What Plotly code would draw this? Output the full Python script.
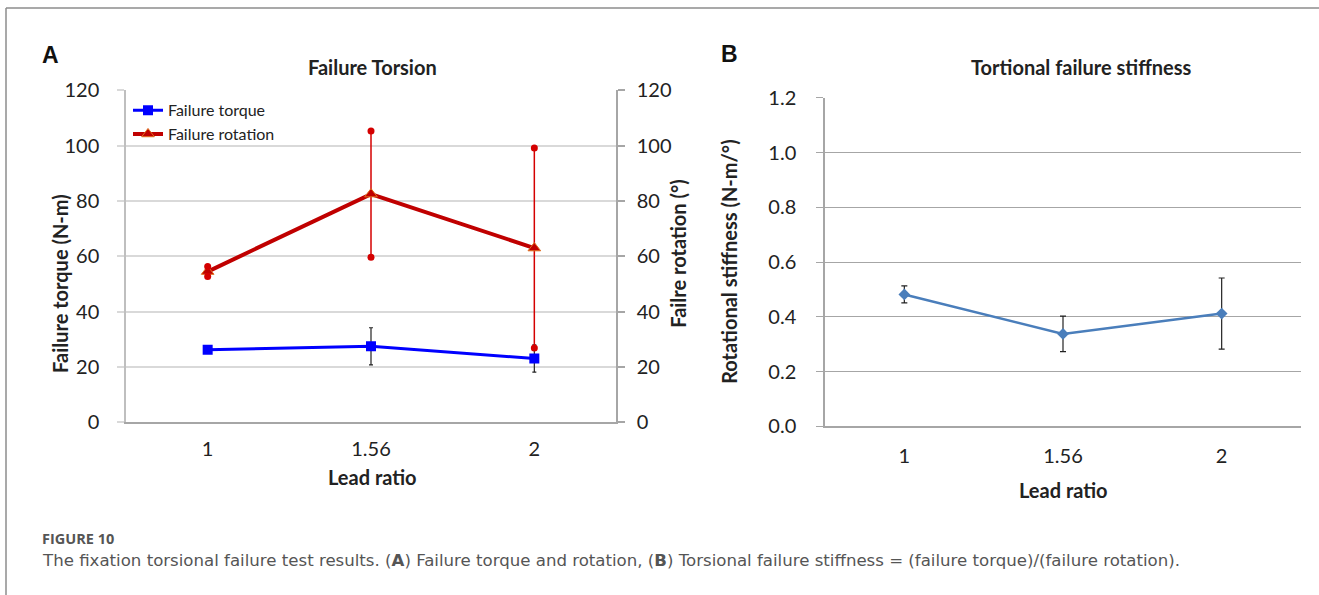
import plotly.graph_objects as go

# ---------------- data ----------------
lead_ratio = ["1", "1.56", "2"]
torque = [26.3, 27.5, 23.1]
torque_err = [1.3, 6.7, 4.9]
rotation = [54.5, 82.5, 63.0]
rotation_err = [1.8, 22.8, 36.1]
stiffness = [0.482, 0.338, 0.412]
stiffness_err = [0.031, 0.065, 0.13]
ticks_a = [0, 20, 40, 60, 80, 100, 120]
ticks_b = [0.0, 0.2, 0.4, 0.6, 0.8, 1.0, 1.2]
tick_labels_b = ["0.0", "0.2", "0.4", "0.6", "0.8", "1.0", "1.2"]

FONT = "Lato, 'Open Sans', sans-serif"
W, H = 1319, 621
OFF, SY = 13, 0.958   # page-to-picture vertical mapping observed for this viewer

def px(x):
    return x / W

def py(y):
    return 1 - ((y - OFF) / SY) / H

fig = go.Figure()

# Panel A: torque (left axis)
fig.add_trace(go.Scatter(
    x=lead_ratio, y=torque, name="Failure torque", mode="lines+markers",
    line=dict(color="#0000ff", width=3),
    marker=dict(symbol="square", size=10, color="#0000ff"),
    error_y=dict(type="data", array=torque_err, color="#222222", thickness=1.2, width=2),
    xaxis="x", yaxis="y",
))
# Panel A: rotation (right axis)
fig.add_trace(go.Scatter(
    x=lead_ratio, y=rotation, name="Failure rotation", mode="lines+markers",
    line=dict(color="#c00000", width=4),
    marker=dict(symbol="triangle-up", size=11, color="#c00000",
                line=dict(color="#e07020", width=1)),
    error_y=dict(type="data", array=rotation_err, color="#d40000", thickness=1.5, width=0),
    xaxis="x", yaxis="y2",
))
# round caps on rotation error bars
fig.add_trace(go.Scatter(
    x=lead_ratio + lead_ratio,
    y=[r + e for r, e in zip(rotation, rotation_err)] + [r - e for r, e in zip(rotation, rotation_err)],
    mode="markers", marker=dict(symbol="circle", size=7, color="#d40000"),
    showlegend=False, hoverinfo="skip", xaxis="x", yaxis="y2",
))

# Panel B: stiffness
fig.add_trace(go.Scatter(
    x=lead_ratio, y=stiffness, name="Stiffness", mode="lines+markers",
    line=dict(color="#4a7ebb", width=2.5),
    marker=dict(symbol="diamond", size=9, color="#4a7ebb"),
    error_y=dict(type="data", array=stiffness_err, color="#222222", thickness=1.2, width=3),
    showlegend=False, xaxis="x2", yaxis="y3",
))

tickfont = dict(family=FONT, size=20, color="#222222")

fig.update_layout(
    width=W, height=H, autosize=False,
    margin=dict(l=0, r=0, t=0, b=0),
    paper_bgcolor="white", plot_bgcolor="white",
    font=dict(family=FONT, color="#222222"),
    showlegend=True,
    legend=dict(x=px(128), y=py(93), xanchor="left", yanchor="top",
                bgcolor="rgba(0,0,0,0)", font=dict(family=FONT, size=16, color="#222222"),
                itemwidth=30, tracegroupgap=4),
    xaxis=dict(domain=[px(126), px(616)], type="category", range=[-0.5, 2.5],
               showgrid=False, showline=True, linecolor="#a6a6a6", linewidth=1.5,
               ticks="", tickfont=tickfont, ticklabelstandoff=8, anchor="y",
               fixedrange=True),
    yaxis=dict(domain=[py(421), py(90)], range=[0, 120], tickvals=ticks_a,
               showgrid=True, gridcolor="#d9d9d9", gridwidth=1.5,
               showline=True, linecolor="#bfbfbf", linewidth=1.5,
               ticks="outside", ticklen=7, tickcolor="#d9d9d9", tickwidth=1.5,
               tickfont=tickfont, ticklabelstandoff=14, zeroline=False, anchor="x"),
    yaxis2=dict(range=[0, 120], tickvals=ticks_a, overlaying="y", side="right",
                showgrid=False, showline=True, linecolor="#a6a6a6", linewidth=1.5,
                ticks="outside", ticklen=7, tickcolor="#a6a6a6", tickwidth=1.5,
                tickfont=tickfont, ticklabelstandoff=8, zeroline=False, anchor="x"),
    xaxis2=dict(domain=[px(825), px(1301)], type="category", range=[-0.5, 2.5],
                showgrid=False, showline=True, linecolor="#a6a6a6", linewidth=1.5,
                ticks="", tickfont=tickfont, ticklabelstandoff=11, anchor="y3"),
    yaxis3=dict(domain=[py(425), py(97.5)], range=[0, 1.2], tickvals=ticks_b,
                ticktext=tick_labels_b,
                showgrid=True, gridcolor="#a6a6a6", gridwidth=1.2,
                showline=True, linecolor="#a6a6a6", linewidth=1.5,
                ticks="outside", ticklen=7, tickcolor="#a6a6a6", tickwidth=1.2,
                tickfont=tickfont, ticklabelstandoff=16, zeroline=False, anchor="x2"),
)

ann = []
def text(x, y, s, size, bold=False, angle=0, color="#222222", family=FONT, xanchor="center"):
    ann.append(dict(x=px(x), y=py(y), xref="paper", yref="paper", text=(f"<b>{s}</b>" if bold else s),
                    showarrow=False, textangle=angle, xanchor=xanchor, yanchor="middle",
                    font=dict(family=family, size=size, color=color)))

text(50, 55, "A", 23, bold=True, family="Liberation Sans, Arial, sans-serif", color="#111111")
text(729, 54, "B", 23, bold=True, family="Liberation Sans, Arial, sans-serif", color="#111111")
text(372, 67, "Failure Torsion", 20, bold=True)
text(1081, 67, "Tortional failure stiffness", 20, bold=True)
text(60, 283, "Failure torque (N-m)", 20, bold=True, angle=-90)
text(678, 253, "Failre rotation (°)", 20, bold=True, angle=-90)
text(729, 261, "Rotational stiffness (N-m/°)", 20, bold=True, angle=-90)
text(373, 475, "Lead ratio", 20, bold=True)
text(1063, 488, "Lead ratio", 20, bold=True)
text(40, 537, "FIGURE 10", 14.5, bold=True, color="#555555", family="'Open Sans', sans-serif", xanchor="left")
text(40, 559, "The fixation torsional failure test results. (<b>A</b>) Failure torque and rotation, "
              "(<b>B</b>) Torsional failure stiffness = (failure torque)/(failure rotation).",
     16.6, color="#555555", family="'DejaVu Sans', sans-serif", xanchor="left")
fig.update_layout(annotations=ann)

# figure frame (top and left edges)
fig.add_shape(type="line", xref="paper", yref="paper", x0=px(6), x1=1, y0=py(8), y1=py(8),
              line=dict(color="#8c8c8c", width=1.5))
fig.add_shape(type="line", xref="paper", yref="paper", x0=px(6), x1=px(6), y0=0, y1=py(8),
              line=dict(color="#8c8c8c", width=1.5))

fig.write_html("out.html", config={"displayModeBar": False},
               post_script="document.body.style.margin='0';document.body.style.padding='0';"
                           "document.body.style.overflow='hidden';")
